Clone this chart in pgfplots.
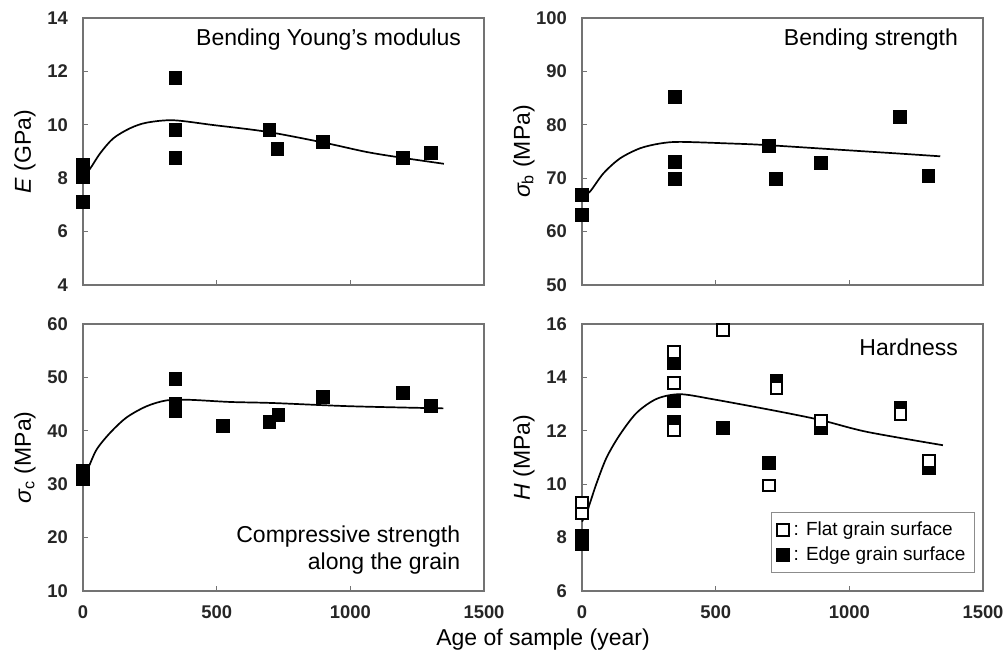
\documentclass[border=0pt]{standalone}
\usepackage{fontspec}
\setmainfont{Liberation Sans}
\usepackage{pgfplots}
\pgfplotsset{compat=1.18}
\pgfplotsset{
  panel/.style={
    scale only axis, width=200.5pt, height=133.5pt, anchor=south west,
    xmin=0, xmax=1500, xtick={0,500,1000,1500}, clip=false,
    axis line style={draw=black!55, line width=0.7pt},
    tick align=inside, tick pos=left, major tick length=2.5pt,
    tick style={black!55, line width=0.6pt},
    ticklabel style={font=\fontsize{9.2}{11}\selectfont\bfseries, text=black!85},
    yticklabel style={xshift=-4pt},
    xticklabel style={yshift=-4pt},
    /pgf/number format/assume math mode=true,
    /pgf/number format/1000 sep={},
    ylabel style={font=\fontsize{11.5}{13}\selectfont, at={(axis description cs:-0.145,0.5)}, anchor=center},
  },
  fill sq/.style={only marks, mark=square*, mark size=3.2pt, black},
  open sq/.style={only marks, mark=square*, mark size=2.9pt, mark options={draw=black, fill=white, line width=1pt}},
  fitline/.style={black, line width=0.85pt, smooth, tension=0.5, forget plot},
}
\tikzset{ttl/.style={font=\fontsize{11.5}{13.5}\selectfont}}
\begin{document}
\begin{tikzpicture}
\useasboundingbox (0,0) rectangle (502pt,-325.5pt);

% Bending Young's modulus
\begin{axis}[panel, at={(41.5pt,-142.5pt)}, ymin=4, ymax=14, ytick={4,6,...,14},
  xticklabels={}, ylabel={{\itshape E} (GPa)}]
\addplot[fill sq] coordinates {(0,8.5)(0,8.3)(0,8.05)(0,7.1)(346,11.75)(346,9.8)(346,8.75)
  (697,9.8)(727,9.1)(897,9.35)(1197,8.75)(1301,8.95)};
\addplot[fitline] coordinates {(0,8.1)(26,8.35)(64,8.93)(113,9.49)(176,9.87)(238,10.08)(338,10.17)
  (488,9.99)(687,9.74)(897,9.34)(1062,8.98)(1197,8.76)(1350,8.54)};
\node[ttl, anchor=east] at (rel axis cs:0.96,0.92) {Bending Young's modulus};
\end{axis}

% Bending strength
\begin{axis}[panel, at={(291pt,-142.5pt)}, ymin=50, ymax=100, ytick={50,60,...,100},
  xticklabels={}, ylabel={{\itshape σ}\textsubscript{b} (MPa)}]
\addplot[fill sq] coordinates {(0,66.8)(0,63.2)(346,85.2)(346,73.0)(346,69.9)
  (698,76.1)(726,69.9)(893,72.9)(1190,81.5)(1296,70.4)};
\addplot[fitline] coordinates {(0,66.5)(30,67.5)(80,70.9)(142,73.7)(217,75.6)(292,76.5)(367,76.8)
  (554,76.5)(691,76.2)(1003,75.2)(1190,74.6)(1340,74.1)};
\node[ttl, anchor=east] at (rel axis cs:0.955,0.92) {Bending strength};
\end{axis}

% Compressive strength
\begin{axis}[panel, at={(41.5pt,-295.5pt)}, ymin=10, ymax=60, ytick={10,20,...,60},
  ylabel={{\itshape σ}\textsubscript{c} (MPa)}]
\addplot[fill sq] coordinates {(0,32.6)(0,31.5)(0,30.9)(346,49.7)(346,45.0)(346,43.8)
  (522,40.9)(697,41.7)(731,43.0)(896,46.3)(1196,47.1)(1300,44.6)};
\addplot[fitline] coordinates {(0,31.3)(20,33.1)(51,36.5)(101,39.6)(163,42.5)(238,44.6)(313,45.7)
  (400,45.8)(550,45.4)(712,45.2)(1000,44.6)(1348,44.2)};
\node[ttl, anchor=east, align=right] at (rel axis cs:0.958,0.154) {Compressive strength\\along the grain};
\end{axis}

% Hardness
\begin{axis}[panel, at={(291pt,-295.5pt)}, ymin=6, ymax=16, ytick={6,8,...,16},
  ylabel={{\itshape H} (MPa)}, reverse legend, legend cell align=left,
  legend style={at={(0.98,0.068)}, anchor=south east, draw=black!45, line width=0.5pt,
    font=\fontsize{9.5}{11}\selectfont, inner sep=2.5pt, row sep=0pt}]
\addplot[fill sq] coordinates {(0,8.05)(0,7.75)(343,14.55)(343,13.1)(343,12.35)(527,12.12)
  (700,10.8)(727,13.88)(894,12.09)(1191,12.85)(1297,10.6)};
\addlegendentry{: Edge grain surface}
\addplot[open sq] coordinates {(0,9.3)(0,8.9)(343,14.95)(343,13.8)(343,12.03)(527,15.77)
  (700,9.95)(727,13.6)(894,12.37)(1191,12.62)(1297,10.86)};
\addlegendentry{: Flat grain surface}
\addplot[fitline] coordinates {(0,8.6)(17,8.92)(30,9.3)(55,10.05)(92,11.0)(142,11.86)(205,12.68)
  (280,13.2)(367,13.37)(491,13.18)(728,12.74)(894,12.4)(1066,11.96)(1350,11.46)};
\node[ttl, anchor=east] at (rel axis cs:0.955,0.914) {Hardness};
\end{axis}

\node[font=\fontsize{11.5}{13}\selectfont] at (271.5pt,-320pt) {Age of sample (year)};
\end{tikzpicture}
\end{document}
